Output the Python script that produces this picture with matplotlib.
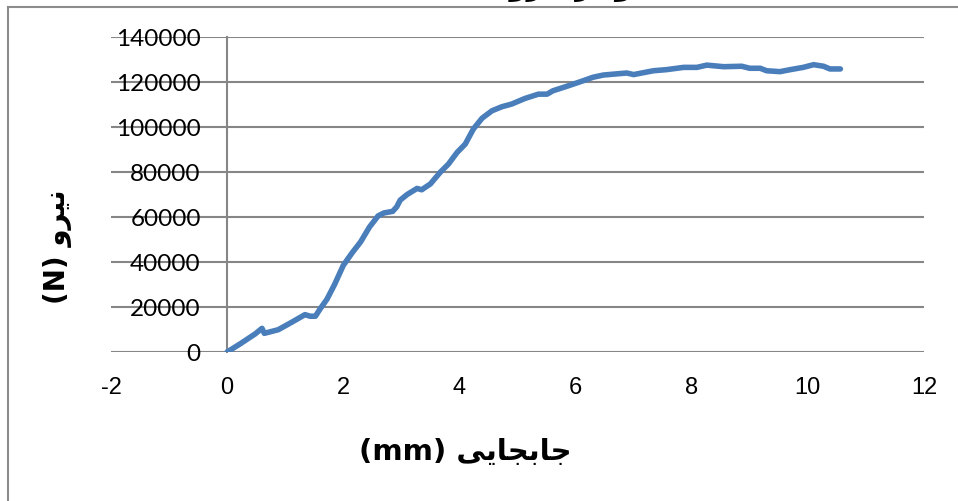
import matplotlib
matplotlib.use("Agg")
import matplotlib.pyplot as plt
from matplotlib.lines import Line2D

# force - displacement readings (mm, N)
displacement = [0.0, 0.22, 0.48, 0.60, 0.64, 0.88, 1.11, 1.34, 1.43, 1.52, 1.60, 1.72,
                1.85, 2.00, 2.15, 2.30, 2.45, 2.60, 2.70, 2.85, 2.92, 2.98, 3.10, 3.27, 3.35, 3.50,
                3.67, 3.81, 3.96, 4.10, 4.24, 4.39, 4.56, 4.73, 4.90, 5.13, 5.36, 5.51,
                5.61, 5.85, 6.08, 6.30, 6.48, 6.88, 7.00, 7.34, 7.57, 7.86, 8.09, 8.26,
                8.55, 8.86, 9.00, 9.18, 9.29, 9.52, 9.70, 9.92, 10.10, 10.27, 10.38, 10.56]
force = [0, 3550, 8000, 10500, 8300, 9900, 13200, 16600, 15900, 15900, 19100, 23500,
         30000, 38500, 44000, 49000, 55500, 60500, 61800, 62500, 64500, 67500, 70000, 72700, 72100, 74700,
         79900, 83500, 88700, 92400, 99100, 103900, 107200, 109000, 110200, 112700, 114600, 114600,
         116100, 118100, 120100, 122100, 123100, 124000, 123300, 125000, 125500, 126500, 126500, 127500,
         126800, 127000, 126100, 126100, 125000, 124600, 125500, 126500, 127700, 127000, 125800, 125800]

x_ticks = [-2, 0, 2, 4, 6, 8, 10, 12]
y_ticks = [0, 20000, 40000, 60000, 80000, 100000, 120000, 140000]

title_text = "نمودار نیرو - جابجایی"
x_word = "جابجایی"
y_word = "نیرو"

# minimal persian shaping (matplotlib has no bidi / joining support)
FORMS = {
    'ا': (0xFE8D, 0xFE8E, None, None),
    'ب': (0xFE8F, 0xFE90, 0xFE91, 0xFE92),
    'ج': (0xFE9D, 0xFE9E, 0xFE9F, 0xFEA0),
    'د': (0xFEA9, 0xFEAA, None, None),
    'ر': (0xFEAD, 0xFEAE, None, None),
    'م': (0xFEE1, 0xFEE2, 0xFEE3, 0xFEE4),
    'ن': (0xFEE5, 0xFEE6, 0xFEE7, 0xFEE8),
    'و': (0xFEED, 0xFEEE, None, None),
    'ه': (0xFEE9, 0xFEEA, 0xFEEB, 0xFEEC),
    'ی': (0xFEEF, 0xFEF0, 0xFEF3, 0xFEF4),
}


def shape(word):
    out = []
    for i, ch in enumerate(word):
        if ch not in FORMS:
            out.append(ch)
            continue
        prev = word[i - 1] if i > 0 else ''
        nxt = word[i + 1] if i < len(word) - 1 else ''
        join_prev = prev in FORMS and FORMS[prev][2] is not None
        join_next = nxt in FORMS and FORMS[ch][2] is not None
        iso, fin, ini, med = FORMS[ch]
        if join_prev and join_next:
            out.append(chr(med))
        elif join_prev:
            out.append(chr(fin))
        elif join_next:
            out.append(chr(ini))
        else:
            out.append(chr(iso))
    return ''.join(out)


def rtl(text):
    return ' '.join(shape(w)[::-1] for w in text.split(' ')[::-1])


fig = plt.figure(figsize=(9.58, 5.02), dpi=100)
ax = fig.add_axes([111 / 958, 149 / 502, 813 / 958, 315 / 502])

ax.plot(displacement, force, color='#4A7EBB', lw=4.0, solid_capstyle='round',
        solid_joinstyle='round', zorder=3)

ax.set_xlim(-2, 12)
ax.set_ylim(0, 140000)
for s in ['top', 'right', 'bottom']:
    ax.spines[s].set_visible(False)
ax.spines['left'].set_position(('data', 0))
ax.spines['left'].set_color('#868686')
ax.spines['left'].set_linewidth(1.5)

# tick setup after moving the spine (moving it resets the ticks)
ax.set_xticks(x_ticks)
ax.set_yticks(y_ticks)
ax.set_xticklabels([str(v) for v in x_ticks], fontfamily='Liberation Sans', fontsize=17)
ax.set_yticklabels([str(v) for v in y_ticks], fontfamily='Lato', fontsize=17.5)
ax.tick_params(axis='both', length=0)
ax.tick_params(axis='x', pad=17)
ax.tick_params(axis='y', pad=19)
ax.grid(axis='y', color='#868686', lw=1.5, zorder=1)
ax.set_axisbelow(True)

# axis titles
fig.text(465 / 958, 1 - 452 / 502, "(mm) " + rtl(x_word), ha='center', va='center',
         fontsize=21, weight='bold', family='DejaVu Sans')
fig.text(57 / 958, 1 - 247 / 502, "(N) " + rtl(y_word), ha='center', va='center',
         rotation=90, fontsize=20, weight='bold', family='DejaVu Sans')

# chart title, cut off by the top edge as in the source
fig.text(515 / 958, 1 + 5 / 502, rtl(title_text), ha='center', va='baseline',
         fontsize=20, weight='bold', family='DejaVu Sans')

# chart area border
fig.add_artist(Line2D([7.5 / 958, 7.5 / 958], [0, 1 - 8 / 502], color='#8c8c8c', lw=1.5))
fig.add_artist(Line2D([7.5 / 958, 1], [1 - 8 / 502, 1 - 8 / 502], color='#8c8c8c', lw=1.5))

fig.savefig('out.png', dpi=100)
